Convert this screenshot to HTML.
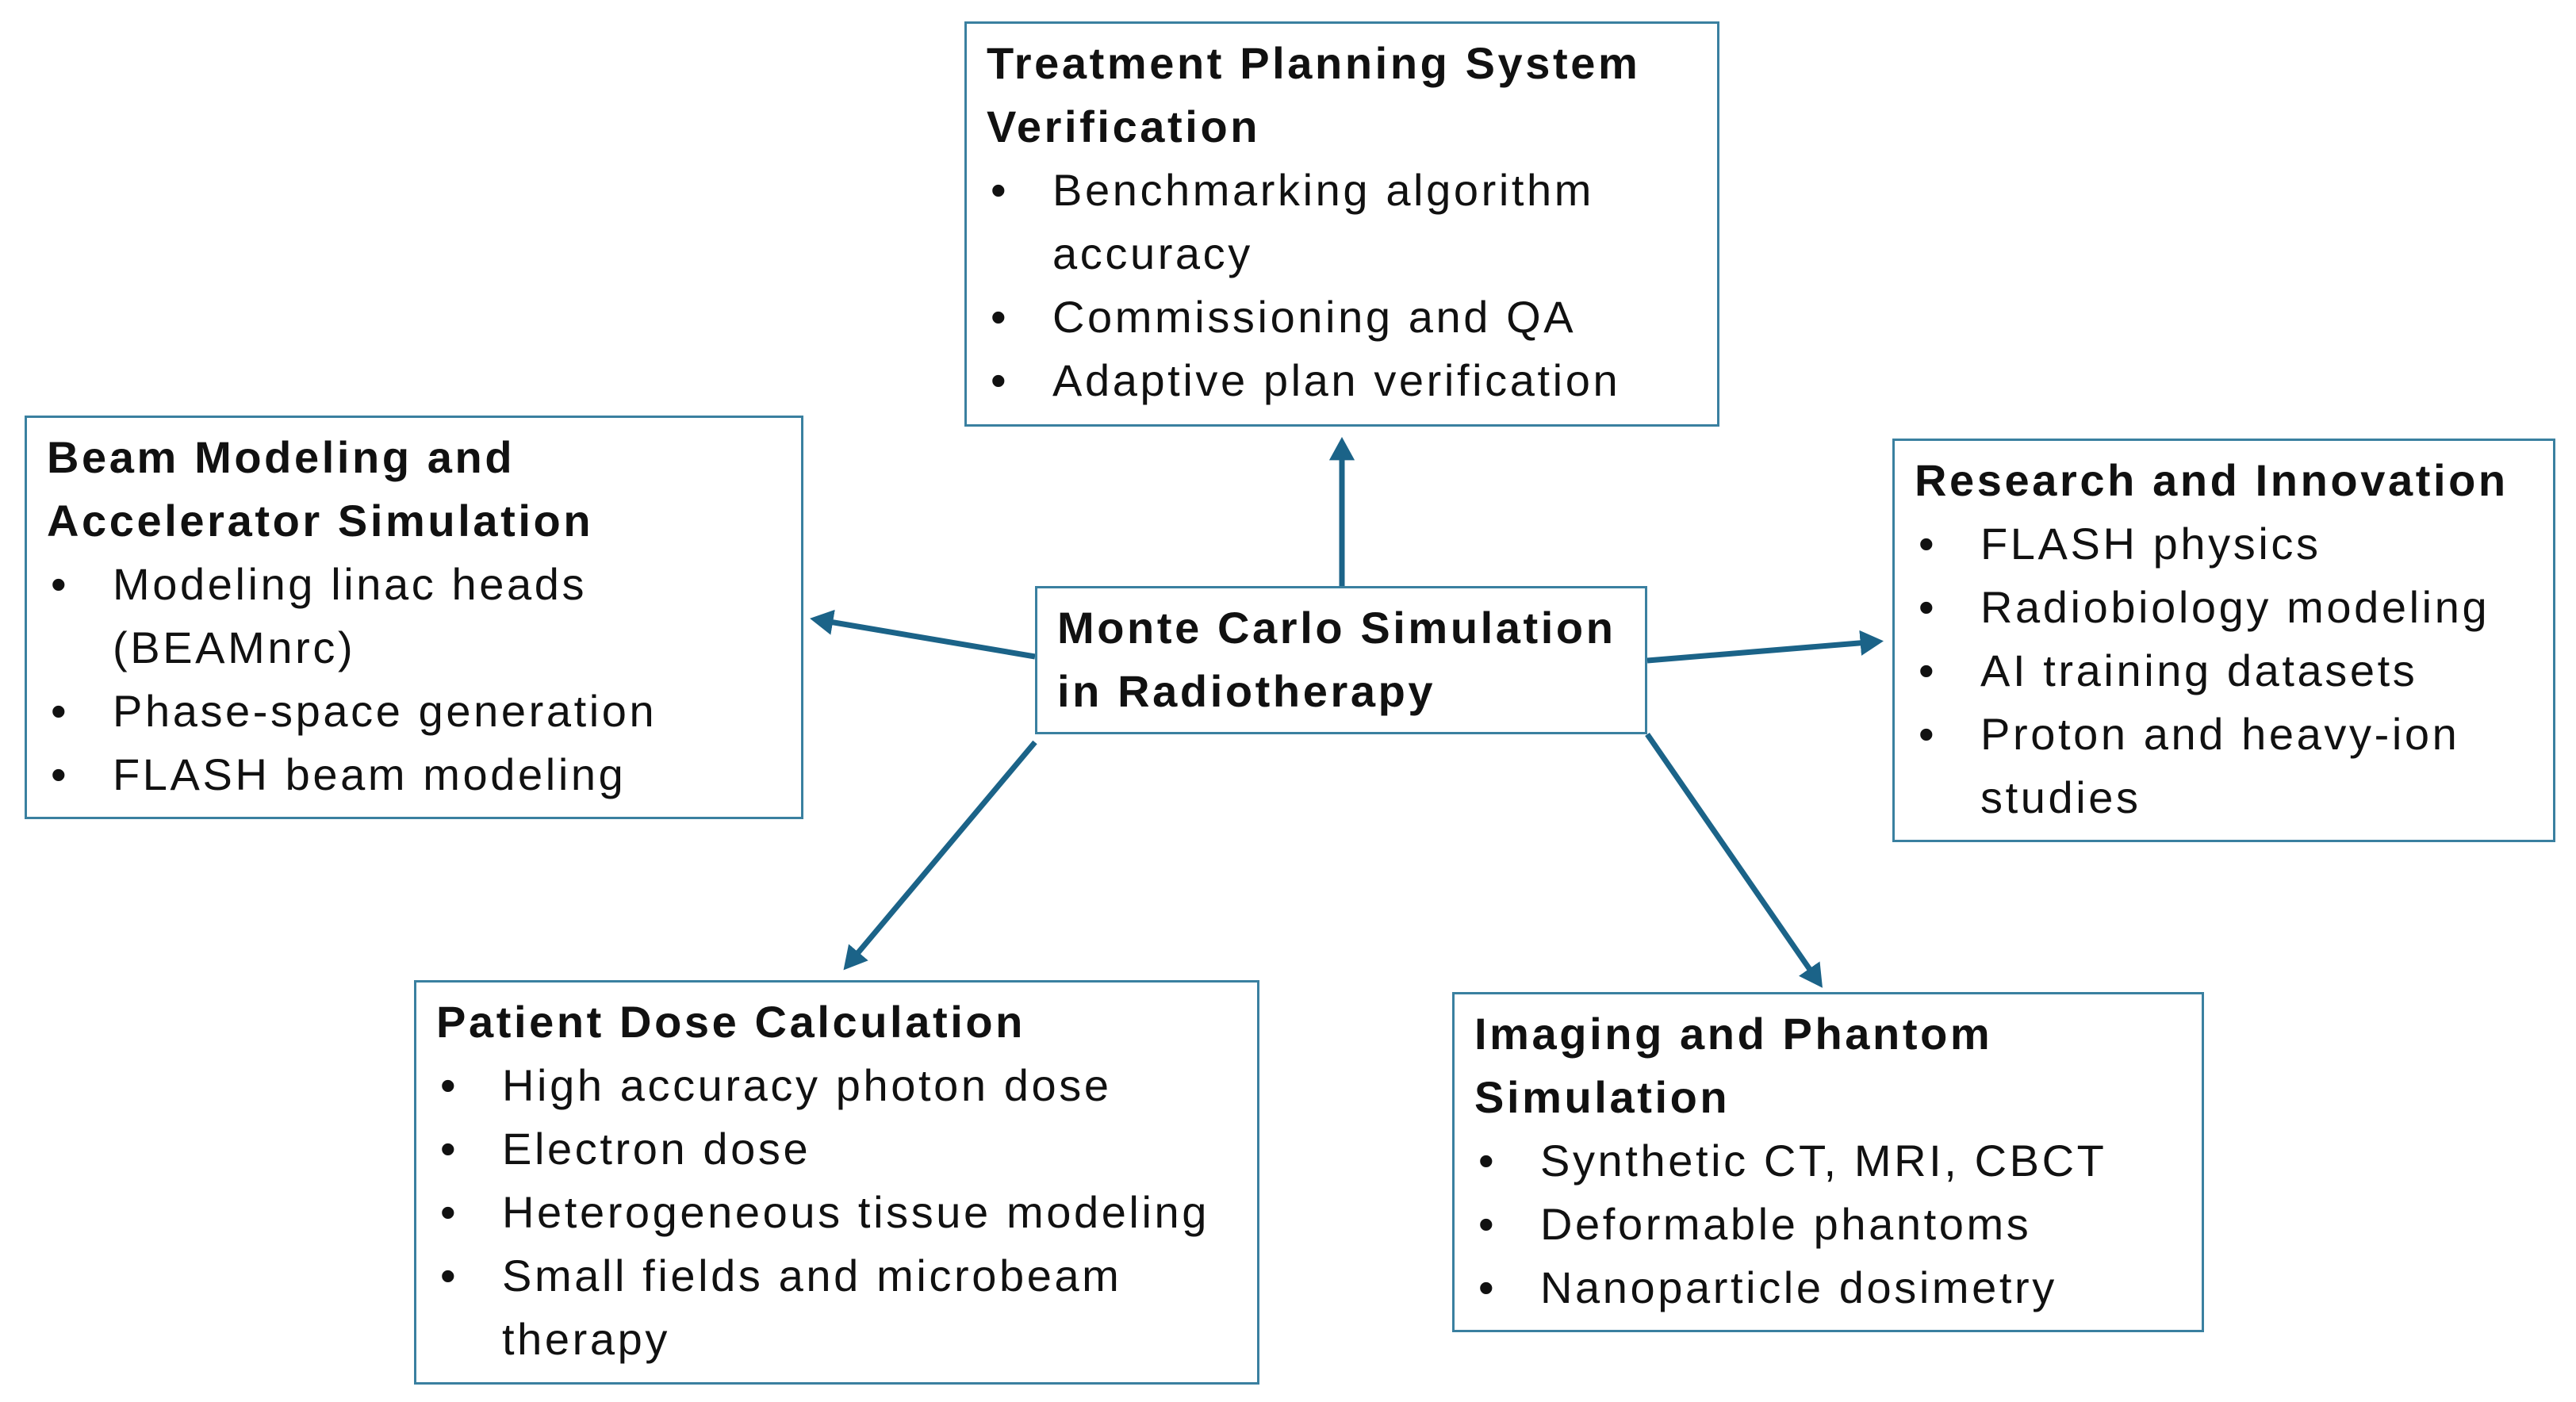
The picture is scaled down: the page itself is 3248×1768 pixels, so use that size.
<!DOCTYPE html>
<html><head><meta charset="utf-8"><style>
body{margin:0;width:3248px;height:1768px;background:#fff;position:relative;overflow:hidden;font-family:"Liberation Sans",sans-serif;color:#111}
.b{position:absolute;border:3px solid #3a80a0;box-sizing:border-box;padding:10px 0 0 25px;font-size:56px;line-height:80px;letter-spacing:3.6px;white-space:nowrap}
.t{font-weight:bold}
.li{position:relative;padding-left:83px}
.li:before{content:"•";position:absolute;left:5px}
svg{position:absolute;left:0;top:0}
</style></head><body>
<svg width="3248" height="1768">
<defs><marker id="a" markerWidth="5" markerHeight="5" refX="3.2" refY="2.5" orient="auto"><path d="M0,0.2 L4.2,2.5 L0,4.8 Z" fill="#1b6388"/></marker></defs>
<g stroke="#1b6388" stroke-width="7" marker-end="url(#a)">
<line x1="1692" y1="739" x2="1692" y2="558"/>
<line x1="1305" y1="828" x2="1028" y2="781"/>
<line x1="2077" y1="833" x2="2368" y2="809"/>
<line x1="1305" y1="936" x2="1068" y2="1218"/>
<line x1="2077" y1="926" x2="2294" y2="1240"/>
</g></svg>
<div class="b" style="left:1216px;top:27px;width:952px;height:511px"><div class="t">Treatment Planning System<br>Verification</div><div class="li">Benchmarking algorithm<br>accuracy</div><div class="li">Commissioning and QA</div><div class="li">Adaptive plan verification</div></div>
<div class="b" style="left:31px;top:524px;width:982px;height:509px"><div class="t">Beam Modeling and<br>Accelerator Simulation</div><div class="li">Modeling linac heads<br>(BEAMnrc)</div><div class="li">Phase-space generation</div><div class="li">FLASH beam modeling</div></div>
<div class="b" style="left:1305px;top:739px;width:772px;height:187px"><div class="t">Monte Carlo Simulation<br>in Radiotherapy</div></div>
<div class="b" style="left:2386px;top:553px;width:836px;height:509px"><div class="t">Research and Innovation</div><div class="li">FLASH physics</div><div class="li">Radiobiology modeling</div><div class="li">AI training datasets</div><div class="li">Proton and heavy-ion<br>studies</div></div>
<div class="b" style="left:522px;top:1236px;width:1066px;height:510px"><div class="t">Patient Dose Calculation</div><div class="li">High accuracy photon dose</div><div class="li">Electron dose</div><div class="li">Heterogeneous tissue modeling</div><div class="li">Small fields and microbeam<br>therapy</div></div>
<div class="b" style="left:1831px;top:1251px;width:948px;height:429px"><div class="t">Imaging and Phantom<br>Simulation</div><div class="li">Synthetic CT, MRI, CBCT</div><div class="li">Deformable phantoms</div><div class="li">Nanoparticle dosimetry</div></div>
</body></html>
